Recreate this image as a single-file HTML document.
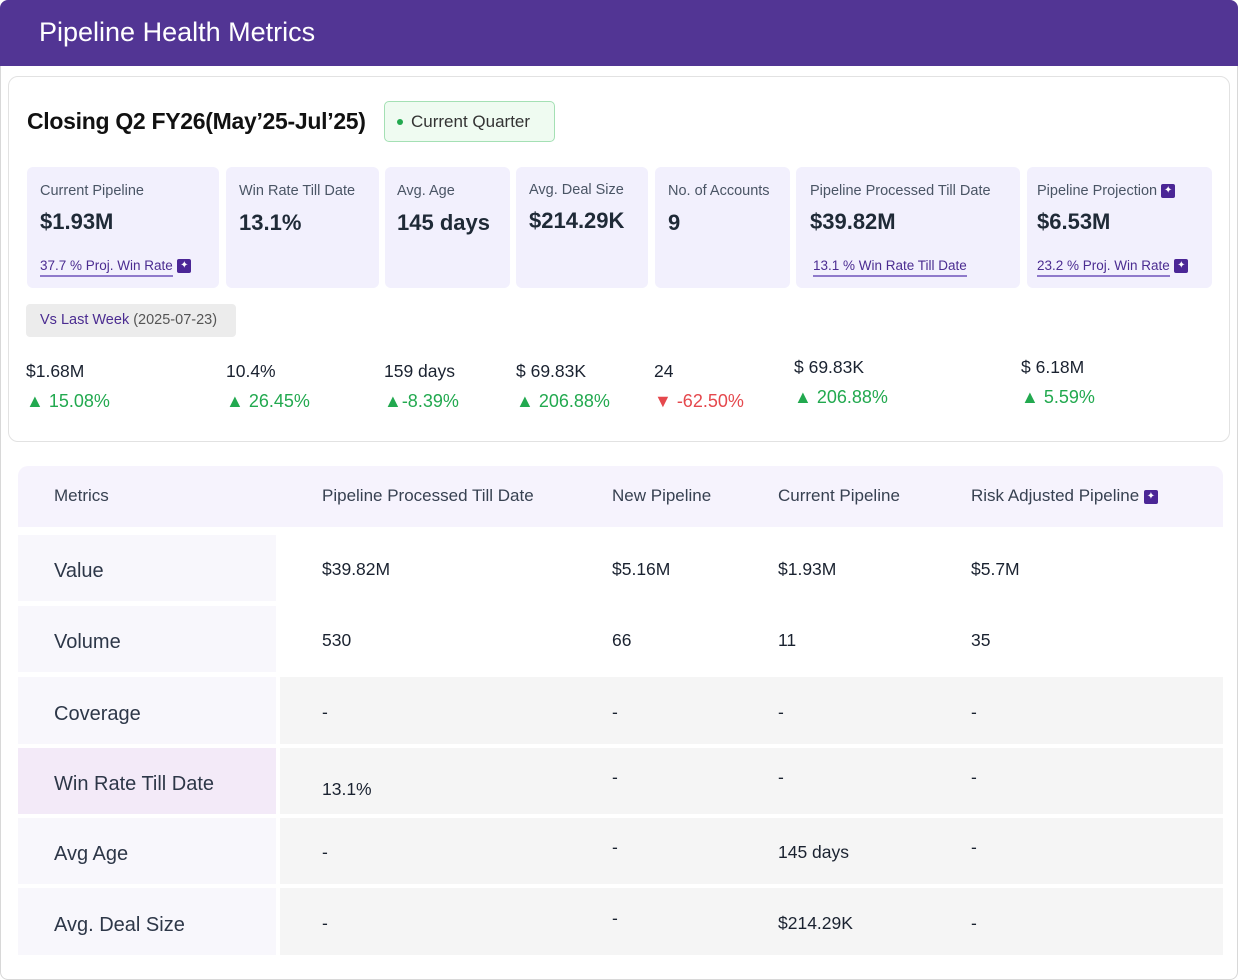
<!DOCTYPE html>
<html><head><meta charset="utf-8"><style>
*{box-sizing:border-box;margin:0;padding:0}
body{width:1238px;height:980px;background:#fff;font-family:"Liberation Sans",sans-serif;position:relative;overflow:hidden;color:#1f2a37}
.a{position:absolute;white-space:nowrap;line-height:1}
.card{position:absolute;background:#f2f0fd;border-radius:6px}
.lbl{font-size:14.5px;color:#4a5565}
.val{font-size:22px;color:#1f2a37;font-weight:bold}
.lnk{font-size:13.5px;color:#4b2c91;border-bottom:2px solid #8f7acb;padding-bottom:2px}
.ic{display:inline-block;width:14px;height:14px;background:#4b2696;border-radius:2px;color:#fff;font-size:10px;text-align:center;line-height:14px;vertical-align:middle}
.bv{font-size:17.5px;color:#1a2230}
.up{font-size:18px;color:#22a94f}
.dn{font-size:18px;color:#e5484d}
.th{font-size:17px;color:#374151}
.rl{font-size:20px;color:#2d3748}
.tv{font-size:17.5px;color:#1a2230}
</style></head><body>
<div class="a" style="left:0;top:0;width:1238px;height:980px;border:1px solid #d8d8d8;border-radius:8px"></div>
<div class="a" style="left:0;top:0;width:1238px;height:66px;background:#523594;border-radius:8px 8px 0 0"></div>
<div class="a" style="left:39px;top:19px;font-size:27px;color:#fff">Pipeline Health Metrics</div>

<div class="a" style="left:8px;top:76px;width:1222px;height:366px;border:1px solid #e2e2e2;border-radius:10px"></div>
<div class="a" style="left:27px;top:110px;font-size:23px;color:#111;font-weight:bold;letter-spacing:-0.3px">Closing Q2 FY26(May’25-Jul’25)</div>
<div class="a" style="left:384px;top:101px;width:171px;height:41px;border:1.5px solid #a4e0b4;background:#effbf1;border-radius:5px"></div>
<div class="a" style="left:397px;top:119px;width:6px;height:6px;border-radius:3px;background:#22a94f"></div>
<div class="a" style="left:411px;top:113px;font-size:17px;color:#333">Current Quarter</div>

<div class="card" style="left:27px;top:167px;width:192px;height:121px"></div>
<div class="card" style="left:226px;top:167px;width:153px;height:121px"></div>
<div class="card" style="left:385px;top:167px;width:125px;height:121px"></div>
<div class="card" style="left:516px;top:167px;width:132px;height:121px"></div>
<div class="card" style="left:655px;top:167px;width:135px;height:121px"></div>
<div class="card" style="left:796px;top:167px;width:224px;height:121px"></div>
<div class="card" style="left:1027px;top:167px;width:185px;height:121px"></div>

<div class="a lbl" style="left:40px;top:184px">Current Pipeline</div>
<div class="a lbl" style="left:239px;top:184px">Win Rate Till Date</div>
<div class="a lbl" style="left:397px;top:184px">Avg. Age</div>
<div class="a lbl" style="left:529px;top:183px">Avg. Deal Size</div>
<div class="a lbl" style="left:668px;top:184px">No. of Accounts</div>
<div class="a lbl" style="left:810px;top:184px">Pipeline Processed Till Date</div>
<div class="a lbl" style="left:1037px;top:184px">Pipeline Projection <span class="ic">✦</span></div>

<div class="a val" style="left:40px;top:211px">$1.93M</div>
<div class="a val" style="left:239px;top:212px">13.1%</div>
<div class="a val" style="left:397px;top:212px">145 days</div>
<div class="a val" style="left:529px;top:210px">$214.29K</div>
<div class="a val" style="left:668px;top:212px">9</div>
<div class="a val" style="left:810px;top:211px">$39.82M</div>
<div class="a val" style="left:1037px;top:211px">$6.53M</div>

<div class="a" style="left:40px;top:258px"><span class="lnk">37.7 %  Proj. Win Rate</span> <span class="ic">✦</span></div>
<div class="a" style="left:813px;top:258px"><span class="lnk">13.1 %  Win Rate Till Date</span></div>
<div class="a" style="left:1037px;top:258px"><span class="lnk">23.2 % Proj. Win Rate</span> <span class="ic">✦</span></div>

<div class="a" style="left:26px;top:304px;width:210px;height:33px;background:#ececec;border-radius:4px"></div>
<div class="a" style="left:40px;top:313px;font-size:14.5px;color:#4b2c91">Vs Last Week <span style="color:#555">(2025-07-23)</span></div>

<div class="a bv" style="left:26px;top:363px">$1.68M</div>
<div class="a bv" style="left:226px;top:363px">10.4%</div>
<div class="a bv" style="left:384px;top:363px">159 days</div>
<div class="a bv" style="left:516px;top:363px">$ 69.83K</div>
<div class="a bv" style="left:654px;top:363px">24</div>
<div class="a bv" style="left:794px;top:359px">$ 69.83K</div>
<div class="a bv" style="left:1021px;top:359px">$ 6.18M</div>

<div class="a up" style="left:26px;top:392px">▲ 15.08%</div>
<div class="a up" style="left:226px;top:392px">▲ 26.45%</div>
<div class="a up" style="left:384px;top:392px">▲-8.39%</div>
<div class="a up" style="left:516px;top:392px">▲ 206.88%</div>
<div class="a dn" style="left:654px;top:392px">▼ -62.50%</div>
<div class="a up" style="left:794px;top:388px">▲ 206.88%</div>
<div class="a up" style="left:1021px;top:388px">▲ 5.59%</div>

<div class="a" style="left:18px;top:466px;width:1205px;height:61px;background:#f6f3fd;border-radius:10px 10px 0 0"></div>
<div class="a th" style="left:54px;top:487px">Metrics</div>
<div class="a th" style="left:322px;top:487px">Pipeline Processed Till Date</div>
<div class="a th" style="left:612px;top:487px">New Pipeline</div>
<div class="a th" style="left:778px;top:487px">Current Pipeline</div>
<div class="a th" style="left:971px;top:487px">Risk Adjusted Pipeline <span class="ic">✦</span></div>

<script>
const rowLabels=["Value","Volume","Coverage","Win Rate Till Date","Avg Age","Avg. Deal Size"];
const colProcessed=["$39.82M","530","-","13.1%","-","-"];
const colNew=["$5.16M","66","-","-","-","-"];
const colCurrent=["$1.93M","11","-","-","145 days","$214.29K"];
const colRisk=["$5.7M","35","-","-","-","-"];
const rowTops=[535,606,677,748,818,888];
const rowH=[66,66,67,66,66,67];
const colX=[322,612,778,971];
const host=document.body;
rowLabels.forEach((lab,i)=>{
  const t=rowTops[i],h=rowH[i];
  const lc=document.createElement('div');
  lc.className='a';
  
  
  lc.style.cssText=`left:18px;top:${t}px;width:258px;height:${h}px;background:${i==3?'#f3eaf8':'#f8f7fc'}`;
  host.appendChild(lc);
  if(i>=2){
    const bg=document.createElement('div');
    bg.className='a';
    
    
    bg.style.cssText=`left:280px;top:${t}px;width:943px;height:${h}px;background:#f5f5f5`;
    host.appendChild(bg);
  }
  const l=document.createElement('div');
  l.className='a rl';
  
  
  l.style.left='54px';l.style.top=(t+h/2-7)+'px';
  l.textContent=lab;host.appendChild(l);
  [colProcessed,colNew,colCurrent,colRisk].forEach((col,j)=>{
    const v=document.createElement('div');
    v.className='a tv';
    
    
    let dy=-7;
    if(i==3&&j==0)dy=0;
    if(col[i]=='-'&&i>=3&&j>0&&!(i==5&&j==3))dy=-12;
    v.style.left=colX[j]+'px';v.style.top=(t+h/2+dy)+'px';
    v.textContent=col[i];host.appendChild(v);
  });
});
</script>
</body></html>
